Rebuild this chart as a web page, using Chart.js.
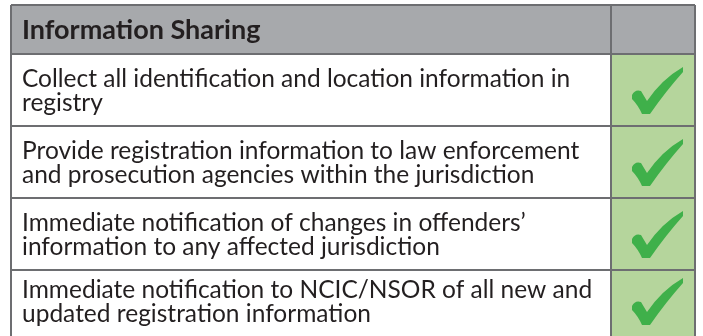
<!DOCTYPE html>
<html>
<head>
<meta charset="utf-8">
<script src="https://cdn.jsdelivr.net/npm/chart.js@4.4.1/dist/chart.umd.min.js"></script>
<style>
  html, body { margin: 0; padding: 0; background: #ffffff; }
  canvas { display: block; }
</style>
</head>
<body>
<canvas id="table-chart" width="703" height="336"></canvas>
<script>
  // table content
  const headerTitle = "Information Sharing";
  const requirementLines = [
    ["Collect all identification and location information in", "registry"],
    ["Provide registration information to law enforcement", "and prosecution agencies within the jurisdiction"],
    ["Immediate notification of changes in offenders\u2019", "information to any affected jurisdiction"],
    ["Immediate notification to NCIC/NSOR of all new and", "updated registration information"],
  ];
  const requirementMet = [true, true, true, true];

  // layout (axis units ~ pixels)
  const colEdges = [0, 600, 684];
  const rowEdges = [0, 49, 121, 193, 265, 327];
  const yMax = 331;

  const colors = {
    header: "#a7a9ac",
    green: "#b5d59c",
    check: "#3fb04a",
    line: "#6d6e71",
    text: "#231f20",
  };

  // checkmark glyph used as point style
  function makeCheck() {
    const c = document.createElement("canvas");
    c.width = 62;
    c.height = 52;
    const g = c.getContext("2d");
    g.translate(10, 3);
    g.fillStyle = colors.check;
    g.beginPath();
    g.moveTo(0, 28);
    g.quadraticCurveTo(3, 22, 9, 24);
    g.lineTo(15, 34);
    g.quadraticCurveTo(30, 12, 51, 0);
    g.lineTo(51, 5);
    g.quadraticCurveTo(34, 24, 18, 47);
    g.lineTo(10, 47);
    g.quadraticCurveTo(6, 38, 0, 32);
    g.closePath();
    g.fill();
    return c;
  }
  const checkImg = makeCheck();

  const rowCenter = (i) => (rowEdges[i + 1] + rowEdges[i + 2]) / 2;

  const datasets = [];
  // header band
  datasets.push({
    type: "line",
    data: [{ x: colEdges[0], y: rowEdges[0] }, { x: colEdges[2], y: rowEdges[0] }],
    fill: { value: rowEdges[1] },
    backgroundColor: colors.header,
    borderWidth: 0,
    pointRadius: 0,
    order: 2,
  });
  // green cells
  requirementMet.forEach((met, i) => {
    if (!met) return;
    const bottom = i === requirementMet.length - 1 ? yMax : rowEdges[i + 2];
    datasets.push({
      type: "line",
      data: [{ x: colEdges[1], y: rowEdges[i + 1] }, { x: colEdges[2], y: rowEdges[i + 1] }],
      fill: { value: bottom },
      backgroundColor: colors.green,
      borderWidth: 0,
      pointRadius: 0,
      order: 2,
    });
  });
  // check marks (drawn on top of the fills)
  datasets.push({
    type: "scatter",
    data: requirementMet
      .map((met, i) => (met ? { x: (colEdges[1] + colEdges[2]) / 2, y: rowCenter(i) } : null))
      .filter(Boolean),
    pointStyle: checkImg,
    pointRadius: 26,
    clip: false,
    order: 0,
  });

  const textPlugin = {
    id: "tableText",
    afterDraw(chart) {
      const { ctx, scales } = chart;
      const left = scales.x.getPixelForValue(colEdges[0]) + 11;
      ctx.save();
      ctx.fillStyle = colors.text;
      ctx.textAlign = "left";
      ctx.textBaseline = "alphabetic";
      ctx.font = "bold 27px Lato";
      const hy = scales.y.getPixelForValue((rowEdges[0] + rowEdges[1]) / 2);
      ctx.fillText(headerTitle, left, hy + 9.5);
      ctx.font = "24.5px Lato";
      requirementLines.forEach((lines, i) => {
        const cy = scales.y.getPixelForValue(rowCenter(i));
        lines.forEach((line, k) => {
          const y = cy + (k - (lines.length - 1) / 2) * 24 + 9;
          ctx.fillText(line, left, y);
        });
      });
      ctx.restore();
    },
  };

  const edgeTicks = (edges) => (scale) => {
    scale.ticks = edges.map((v) => ({ value: v }));
  };

  new Chart(document.getElementById("table-chart"), {
    type: "scatter",
    data: { datasets },
    plugins: [textPlugin],
    options: {
      responsive: false,
      animation: false,
      devicePixelRatio: 1,
      layout: { autoPadding: false, padding: { left: 11, right: 8, top: 5, bottom: 0 } },
      plugins: { legend: { display: false }, tooltip: { enabled: false } },
      scales: {
        x: {
          type: "linear",
          min: colEdges[0],
          max: colEdges[2],
          afterBuildTicks: edgeTicks(colEdges),
          ticks: { display: false },
          grid: { color: colors.line, lineWidth: 2, drawTicks: false, z: 1 },
          border: { display: false },
        },
        y: {
          type: "linear",
          reverse: true,
          min: 0,
          max: yMax,
          afterBuildTicks: edgeTicks(rowEdges.slice(0, 5)),
          ticks: { display: false },
          grid: { color: colors.line, lineWidth: 2, drawTicks: false, z: 1 },
          border: { display: false },
        },
      },
    },
  });
</script>
</body>
</html>
